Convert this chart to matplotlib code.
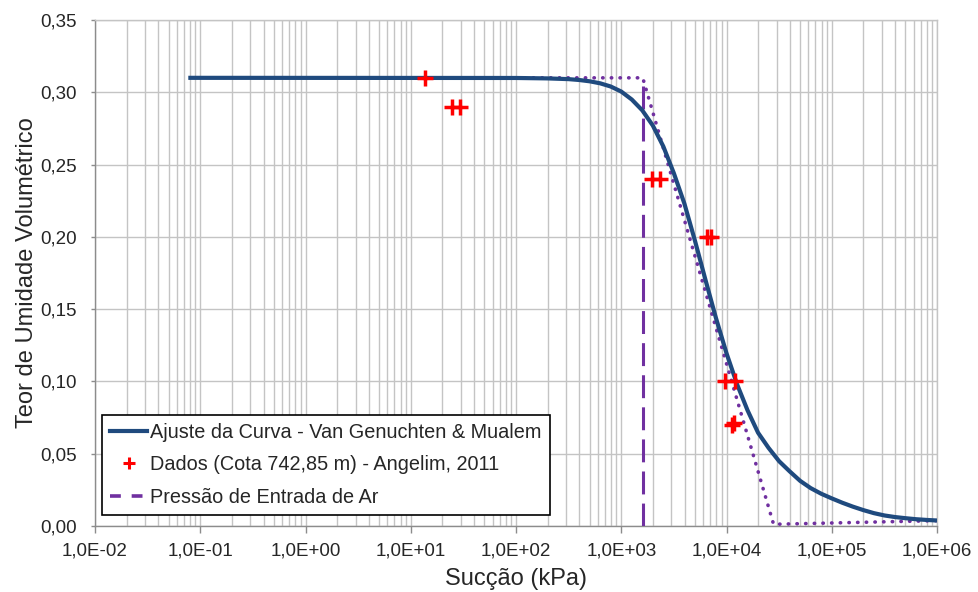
import matplotlib
matplotlib.use("Agg")
import matplotlib.pyplot as plt
from matplotlib.lines import Line2D
from matplotlib.ticker import FixedLocator, LogLocator, NullFormatter

plt.rcParams['font.family'] = ['Liberation Sans', 'DejaVu Sans']

# Fitted Van Genuchten & Mualem curve: suction (kPa) and volumetric water content
curve_suction = [0.077, 100, 200, 316, 398, 501, 631, 794, 1000, 1259, 1585,
                 1995, 2512, 3162, 3981, 5012, 6310, 7943, 10000, 12589,
                 15849, 19953, 25119, 31623, 39811, 50119, 63096, 79433,
                 100000, 125893, 158489, 199526, 251189, 316228, 398107,
                 501187, 630957, 794328, 1000000]
curve_theta = [0.3100, 0.3099, 0.3096, 0.3091, 0.3085, 0.3076, 0.3062, 0.3040,
               0.3005, 0.2950, 0.2875, 0.2770, 0.2625, 0.2440, 0.2230, 0.1974,
               0.1703, 0.1438, 0.1195, 0.0981, 0.0800, 0.0645, 0.0540, 0.0448,
               0.0378, 0.0312, 0.0262, 0.0223, 0.0191, 0.0161, 0.0134, 0.0110,
               0.0089, 0.0073, 0.0062, 0.0054, 0.0047, 0.0042, 0.0038]

# Laboratory data (Cota 742,85 m - Angelim, 2011)
data_suction = [13.6, 24.5, 29.4, 1950, 2330, 6500, 7200, 9700, 12000, 11300, 11700]
data_theta = [0.310, 0.290, 0.290, 0.240, 0.240, 0.200, 0.200, 0.100, 0.100, 0.070, 0.071]

# Air entry pressure marker
air_entry_suction = [1600, 1600]
air_entry_theta = [0.0, 0.31]

# Bilinear construction (saturated plateau, desaturation slope, residual branch)
construct_suction = [100, 1600, 28000, 1000000]
construct_theta = [0.310, 0.310, 0.0012, 0.0037]

x_ticks = [1e-2, 1e-1, 1e0, 1e1, 1e2, 1e3, 1e4, 1e5, 1e6]
x_tick_labels = ['1,0E-02', '1,0E-01', '1,0E+00', '1,0E+01', '1,0E+02',
                 '1,0E+03', '1,0E+04', '1,0E+05', '1,0E+06']
y_ticks = [0.00, 0.05, 0.10, 0.15, 0.20, 0.25, 0.30, 0.35]
y_tick_labels = ['0,00', '0,05', '0,10', '0,15', '0,20', '0,25', '0,30', '0,35']

blue = '#1F4A7E'
purple = '#7030A0'
red = '#FF0000'
grid_c = '#C4C4C4'
text_c = '#262626'

fig = plt.figure(figsize=(9.79, 5.92), dpi=100)
ax = fig.add_axes([95 / 979, 1 - 526 / 592, 842 / 979, 506 / 592])

ax.plot(construct_suction, construct_theta, color=purple, lw=2.6,
        linestyle=(0, (0.1, 2.3)), dash_capstyle='round', zorder=3)
ax.plot(air_entry_suction, air_entry_theta, color=purple, lw=2.2,
        linestyle=(0, (7.5, 3.0)), zorder=3)
ax.plot(curve_suction, curve_theta, color=blue, lw=3.0, zorder=4,
        solid_capstyle='butt', solid_joinstyle='round')
ax.plot(data_suction, data_theta, linestyle='none', marker='+', ms=12,
        mew=2.5, color=red, zorder=5)

ax.set_xscale('log')
ax.set_xlim(1e-2, 1e6)
ax.set_ylim(0, 0.35)

ax.xaxis.set_major_locator(FixedLocator(x_ticks))
ax.set_xticklabels(x_tick_labels)
ax.xaxis.set_minor_locator(LogLocator(base=10, subs=range(2, 10), numticks=100))
ax.xaxis.set_minor_formatter(NullFormatter())
ax.set_yticks(y_ticks)
ax.set_yticklabels(y_tick_labels)

ax.grid(True, which='major', axis='both', color=grid_c, lw=1.0, zorder=0)
ax.grid(True, which='minor', axis='x', color=grid_c, lw=1.0, zorder=0)
ax.set_axisbelow(True)

for side in ['top', 'right']:
    ax.spines[side].set_color(grid_c)
    ax.spines[side].set_linewidth(1.0)
for side in ['left', 'bottom']:
    ax.spines[side].set_color('#8C8C8C')
    ax.spines[side].set_linewidth(1.0)

ax.tick_params(axis='x', which='major', direction='out', length=5, width=1,
               color='#8C8C8C', labelsize=13.5, labelcolor=text_c, pad=7)
ax.tick_params(axis='x', which='minor', length=0)
ax.tick_params(axis='y', which='major', direction='out', length=3, width=1,
               color='#8C8C8C', labelsize=13.5, labelcolor=text_c, pad=10)

ax.set_xlabel('Sucção (kPa)', fontsize=17, color=text_c, labelpad=6)
ax.set_ylabel('Teor de Umidade Volumétrico', fontsize=17, color=text_c, labelpad=2)

handles = [
    Line2D([], [], color=blue, lw=3.0),
    Line2D([], [], color=red, marker='+', ms=9, mew=2.2, linestyle='none'),
    Line2D([], [], color=purple, lw=2.6, linestyle=(0, (3.0, 3.0))),
]
labels = ['Ajuste da Curva - Van Genuchten & Mualem',
          'Dados (Cota 742,85 m) - Angelim, 2011',
          'Pressão de Entrada de Ar']
leg = ax.legend(handles, labels, loc='lower left',
                bbox_to_anchor=(0.008, 0.022), borderaxespad=0,
                fontsize=14.3, frameon=True, fancybox=False,
                edgecolor='#000000', framealpha=1, borderpad=0.4,
                labelspacing=0.68, handlelength=1.9, handletextpad=0.15)
leg.get_frame().set_linewidth(1.2)
for t in leg.get_texts():
    t.set_color(text_c)
leg.set_zorder(10)

fig.savefig('out.png', dpi=100)
